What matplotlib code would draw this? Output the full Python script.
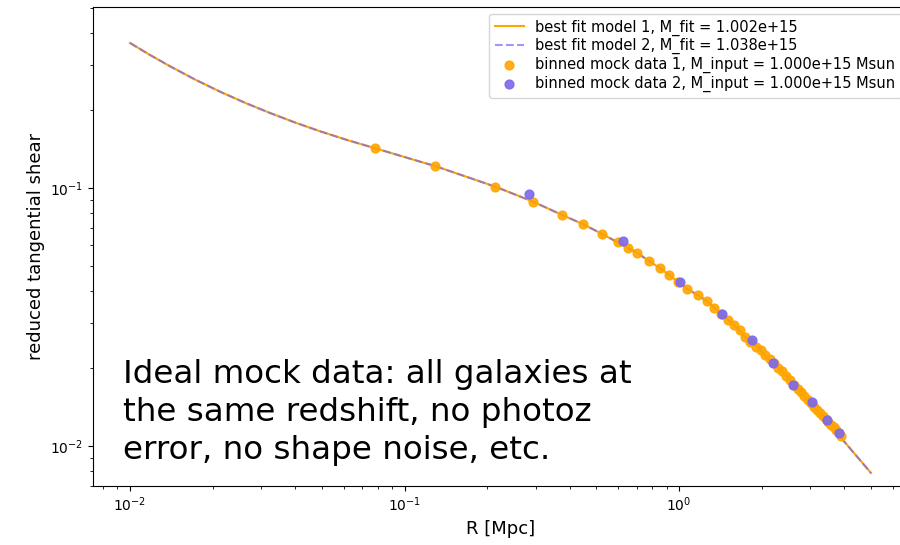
import matplotlib
matplotlib.use("Agg")
import matplotlib.pyplot as plt

# model curve (R in Mpc, reduced tangential shear)
model_r = [0.010, 0.01183, 0.01399, 0.01725, 0.02128, 0.02624, 0.03236, 0.03991, 0.04922, 0.06173,
           0.07806, 0.1139, 0.129, 0.214, 0.294, 0.375, 0.447, 0.525, 0.703, 0.777,
           0.85, 0.92, 1.07, 1.17, 1.26, 1.51, 1.63, 1.71, 1.93, 2.04,
           2.39, 2.80, 3.23, 3.65, 3.95, 5.0]
model1_gt = [0.3648, 0.3277, 0.2963, 0.2633, 0.2362, 0.2139, 0.1953, 0.1794, 0.1659, 0.1535,
             0.1426, 0.1265, 0.1217, 0.1012, 0.0885, 0.0786, 0.0724, 0.0663, 0.0561, 0.0521,
             0.0490, 0.0460, 0.0406, 0.0385, 0.0365, 0.0308, 0.0287, 0.0269, 0.0242, 0.0225,
             0.0194, 0.0160, 0.0135, 0.0119, 0.01055, 0.00786]
model2_gt = model1_gt

data1_r = [0.078, 0.129, 0.214, 0.294, 0.375, 0.447, 0.525, 0.600, 0.650, 0.703,
           0.777, 0.85, 0.92, 0.995, 1.07, 1.17, 1.26, 1.34, 1.42, 1.51,
           1.58, 1.66, 1.74, 1.82, 1.90, 1.98, 2.06, 2.14, 2.22, 2.30,
           2.38, 2.46, 2.54, 2.62, 2.70, 2.78, 2.86, 2.94, 3.02, 3.10,
           3.18, 3.26, 3.34, 3.42, 3.50, 3.58, 3.66, 3.74, 3.82, 3.90]
data1_gt = [0.1426, 0.1217, 0.1012, 0.0885, 0.0786, 0.0728, 0.0663, 0.0615, 0.0587, 0.0561,
            0.0521, 0.0490, 0.0460, 0.0431, 0.0406, 0.0385, 0.0365, 0.0344, 0.0326, 0.0308,
            0.0295, 0.0281, 0.0264, 0.0254, 0.0243, 0.0236, 0.0226, 0.0217, 0.0209, 0.0201,
            0.0195, 0.0187, 0.0180, 0.0173, 0.0167, 0.0162, 0.0156, 0.0151, 0.0147, 0.0142,
            0.0138, 0.0134, 0.01306, 0.01274, 0.01242, 0.01211, 0.0118, 0.0115, 0.01122, 0.01094]

data2_r = [0.283, 0.626, 1.01, 1.43, 1.84, 2.20, 2.61, 3.05, 3.45, 3.83]
data2_gt = [0.0948, 0.0624, 0.0433, 0.0325, 0.0258, 0.0210, 0.0172, 0.0148, 0.0126, 0.0112]

label_fit1 = "best fit model 1, M_fit = 1.002e+15"
label_fit2 = "best fit model 2, M_fit = 1.038e+15"
label_data1 = "binned mock data 1, M_input = 1.000e+15 Msun"
label_data2 = "binned mock data 2, M_input = 1.000e+15 Msun"
note = "Ideal mock data: all galaxies at\nthe same redshift, no photoz\nerror, no shape noise, etc."

fig = plt.figure(figsize=(9, 5.45), dpi=100)
ax = fig.add_axes([0.1033, 0.1083, 0.9056, 0.8789])

ax.plot(model_r, model1_gt, color="orange", lw=1.5, label=label_fit1)
ax.plot(model_r, model2_gt, color="mediumslateblue", lw=1.5, ls="--", alpha=0.7, label=label_fit2)
ax.scatter(data1_r, data1_gt, s=40, color="orange", alpha=0.9, label=label_data1, zorder=3)
ax.scatter(data2_r, data2_gt, s=40, color="mediumslateblue", alpha=0.9, label=label_data2, zorder=3)

ax.set_xscale("log")
ax.set_yscale("log")
ax.set_xlim(0.00733, 6.82)
ax.set_ylim(0.00700, 0.503)
ax.set_xlabel("R [Mpc]", fontsize=13)
ax.set_ylabel("reduced tangential shear", fontsize=13)
ax.legend(loc="upper right", fontsize=10.5, labelspacing=0.18, borderaxespad=0.45)

fig.text(0.137, 0.243, note, fontsize=23.4, va="center", ha="left", linespacing=1.28)

fig.savefig("out.png", dpi=100)
